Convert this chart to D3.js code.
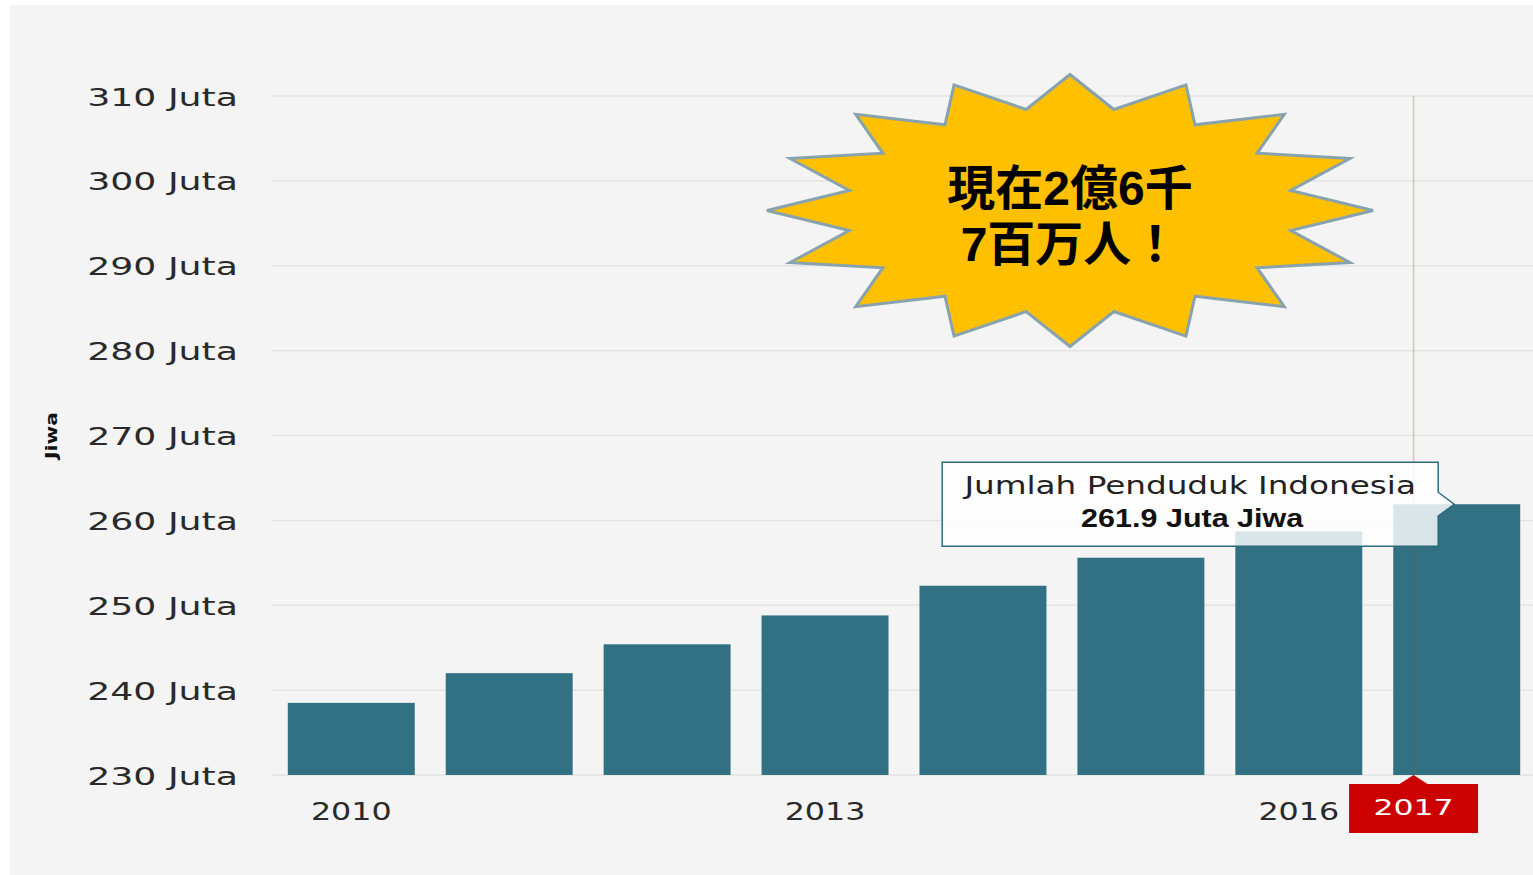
<!DOCTYPE html>
<html>
<head>
<meta charset="utf-8">
<script src="https://cdn.jsdelivr.net/npm/d3@7"></script>
<style>
  body { margin: 0; background: #fff; }
  svg { display: block; }
</style>
</head>
<body>
<script>
// data (juta jiwa)
const years = ["2010", "2011", "2012", "2013", "2014", "2015", "2016", "2017"];
const population = [238.5, 242.0, 245.4, 248.8, 252.3, 255.6, 258.7, 261.9];
const yTicks = [230, 240, 250, 260, 270, 280, 290, 300, 310];
const xTickYears = ["2010", "2013", "2016"];
const highlightYear = "2017";
const axisTitle = "Jiwa";
const tooltipTitle = "Jumlah Penduduk Indonesia";
const calloutLines = ["現在2億6千", "7百万人！"];

const width = 1533,
  height = 875;
const margin = { top: 96, right: -3, bottom: 100, left: 272 };

const data = years.map((y, i) => ({ year: y, value: population[i] }));

const svg = d3
  .select("body")
  .append("svg")
  .attr("width", width)
  .attr("height", height);

// grey panel
svg
  .append("rect")
  .attr("x", 10)
  .attr("y", 5)
  .attr("width", width - 10)
  .attr("height", height - 5)
  .attr("fill", "#f4f4f4");

const xScale = d3
  .scaleBand()
  .domain(years)
  .range([margin.left, width - margin.right])
  .paddingInner(0.196)
  .paddingOuter(0.1);

const yScale = d3
  .scaleLinear()
  .domain([230, 310])
  .range([height - margin.bottom, margin.top]);

// horizontally stretch text like the original screenshot
function stretch(sel, k) {
  sel.each(function () {
    const w = this.getComputedTextLength();
    d3.select(this)
      .attr("textLength", w * k)
      .attr("lengthAdjust", "spacingAndGlyphs");
  });
}

// gridlines
svg
  .append("g")
  .selectAll("line")
  .data(yTicks)
  .enter()
  .append("line")
  .attr("x1", margin.left)
  .attr("x2", width)
  .attr("y1", (d) => yScale(d))
  .attr("y2", (d) => yScale(d))
  .attr("stroke", "#e3e3e3")
  .attr("stroke-width", 1.5);

// y axis
const yAxis = d3
  .axisLeft(yScale)
  .tickValues(yTicks)
  .tickSize(0)
  .tickPadding(34)
  .tickFormat((d) => d + " Juta");

const yG = svg
  .append("g")
  .attr("transform", `translate(${margin.left},0)`)
  .call(yAxis);
yG.select(".domain").remove();
yG.selectAll("text")
  .attr("font-family", "DejaVu Sans")
  .attr("font-size", 25)
  .attr("fill", "#2a2a2a")
  .attr("dy", "0.36em")
  .call(stretch, 1.45);

// axis title
svg
  .append("text")
  .attr("transform", `translate(57,${yScale(270)}) rotate(-90)`)
  .attr("text-anchor", "middle")
  .attr("font-family", "DejaVu Sans")
  .attr("font-weight", "bold")
  .attr("font-size", 15)
  .attr("fill", "#111")
  .text(axisTitle)
  .call(stretch, 1.35);

// bars
svg
  .append("g")
  .selectAll("rect")
  .data(data)
  .enter()
  .append("rect")
  .attr("x", (d) => xScale(d.year))
  .attr("y", (d) => yScale(d.value))
  .attr("width", xScale.bandwidth())
  .attr("height", (d) => yScale(230) - yScale(d.value))
  .attr("fill", "#327184");

// x axis
const xAxis = d3
  .axisBottom(xScale)
  .tickValues(xTickYears)
  .tickSize(0)
  .tickPadding(27);

const xG = svg
  .append("g")
  .attr("transform", `translate(0,${yScale(230)})`)
  .call(xAxis);
xG.select(".domain").remove();
xG.selectAll("text")
  .attr("font-family", "DejaVu Sans")
  .attr("font-size", 25)
  .attr("fill", "#2a2a2a")
  .call(stretch, 1.27);

// crosshair at the hovered year
const hl = data.find((d) => d.year === highlightYear);
const cx = xScale(hl.year) + xScale.bandwidth() * 0.16;

svg
  .append("line")
  .attr("x1", cx)
  .attr("x2", cx)
  .attr("y1", yScale(310))
  .attr("y2", yScale(230))
  .attr("stroke", "rgba(220,40,40,0.28)")
  .attr("stroke-width", 1.5);

// crosshair label (red box)
const boxW = 129,
  boxH = 49,
  boxTop = yScale(230) + 9;
svg
  .append("path")
  .attr(
    "d",
    `M${cx - boxW / 2},${boxTop} H${cx - 14} L${cx},${yScale(230)} L${cx + 14},${boxTop} H${cx + boxW / 2} V${boxTop + boxH} H${cx - boxW / 2} Z`
  )
  .attr("fill", "#cc0000");

svg
  .append("text")
  .attr("x", cx)
  .attr("y", boxTop + 31)
  .attr("text-anchor", "middle")
  .attr("font-family", "DejaVu Sans")
  .attr("font-size", 22)
  .attr("fill", "#fff")
  .text(hl.year)
  .call(stretch, 1.43);

// tooltip
const tipX = xScale(hl.year) + xScale.bandwidth() * 0.48;
const tipY = yScale(hl.value);
const tw = 496,
  th = 84,
  tr = tipX - 16;
const tl = tr - tw;

svg
  .append("path")
  .attr(
    "d",
    `M${tl},${tipY - th / 2} H${tr} V${tipY - 12} L${tipX},${tipY} L${tr},${tipY + 12} V${tipY + th / 2} H${tl} Z`
  )
  .attr("fill", "rgba(255,255,255,0.82)")
  .attr("stroke", "#2d6a7c")
  .attr("stroke-width", 1.5);

svg
  .append("text")
  .attr("x", (tl + tr) / 2)
  .attr("y", tipY - 10)
  .attr("text-anchor", "middle")
  .attr("font-family", "DejaVu Sans")
  .attr("font-size", 24)
  .attr("fill", "#222")
  .text(tooltipTitle)
  .call(stretch, 1.36);

svg
  .append("text")
  .attr("x", (tl + tr) / 2 + 2)
  .attr("y", tipY + 23)
  .attr("text-anchor", "middle")
  .attr("font-family", "Liberation Sans")
  .attr("font-weight", "bold")
  .attr("font-size", 25)
  .attr("fill", "#111")
  .text(`${hl.value} Juta Jiwa`)
  .call(stretch, 1.22);

// starburst callout
const burst = { cx: 1070, cy: 210.5, rx: 303, ry: 136, irx: 225, iry: 103, n: 16 };
const pts = d3.range(burst.n * 2).map((i) => {
  const a = (i * Math.PI) / burst.n;
  const outer = i % 2 === 0;
  return [
    burst.cx + Math.cos(a) * (outer ? burst.rx : burst.irx),
    burst.cy - Math.sin(a) * (outer ? burst.ry : burst.iry),
  ];
});

svg
  .append("path")
  .attr("d", d3.line()(pts) + "Z")
  .attr("fill", "#ffc000")
  .attr("stroke", "#88a3ae")
  .attr("stroke-width", 3)
  .attr("stroke-linejoin", "miter");

svg
  .append("text")
  .attr("text-anchor", "middle")
  .attr("font-family", "'Liberation Sans', 'Noto Sans CJK JP'")
  .attr("font-weight", "bold")
  .attr("font-size", 48)
  .attr("fill", "#000")
  .selectAll("tspan")
  .data(calloutLines)
  .enter()
  .append("tspan")
  .attr("x", burst.cx)
  .attr("y", (d, i) => 205 + i * 56)
  .text((d) => d);
</script>
</body>
</html>
